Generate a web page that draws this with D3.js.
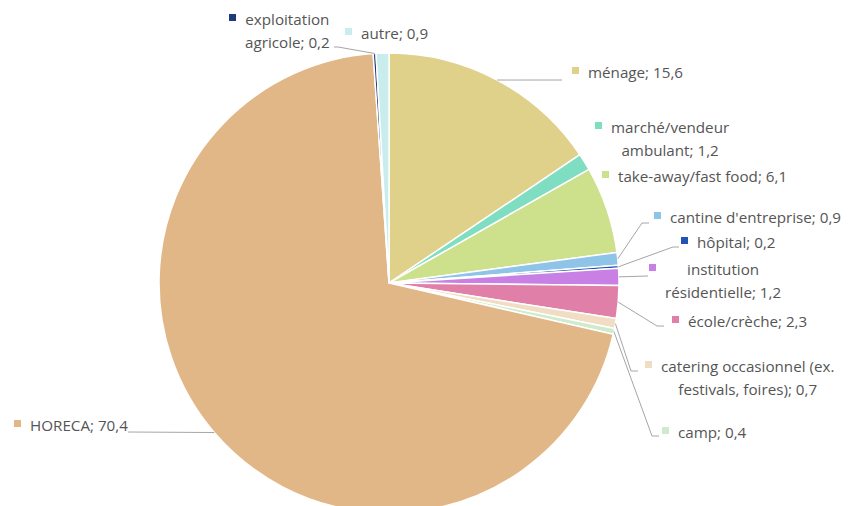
<!DOCTYPE html>
<html><head><meta charset="utf-8">
<script src="https://cdn.jsdelivr.net/npm/d3@7"></script>
<style>
html,body{margin:0;padding:0;background:#fff;}
svg{display:block;}
text{font-family:"Open Sans",Lato,sans-serif;font-size:15.2px;fill:#555555;}
</style></head><body>
<svg id="chart" width="848" height="506"></svg>
<script>
const categories = ["ménage","marché/vendeur ambulant","take-away/fast food","cantine d'entreprise","hôpital","institution résidentielle","école/crèche","catering occasionnel (ex. festivals, foires)","camp","HORECA","exploitation agricole","autre"];
const values = [15.6,1.2,6.1,0.9,0.2,1.2,2.3,0.7,0.4,70.4,0.2,0.9];
const colors = ["#DFD18A","#7FDDC1","#CDE08C","#8FC4E9","#2353B5","#C880E4","#E080A8","#F0DDC4","#CFEBCD","#E2B788","#1E3A78","#C9ECEC"];
const labelLines = [["ménage; 15,6"],["marché/vendeur","ambulant; 1,2"],["take-away/fast food; 6,1"],["cantine d'entreprise; 0,9"],["hôpital; 0,2"],["institution","résidentielle; 1,2"],["école/crèche; 2,3"],["catering occasionnel (ex.","festivals, foires); 0,7"],["camp; 0,4"],["HORECA; 70,4"],["exploitation","agricole; 0,2"],["autre; 0,9"]];
// label layout: left edge of text block, first baseline; leader elbow points
const labelLayout = [
 {x:588,y:78,leader:[[562,80]]},
 {x:611,y:133,leader:null},
 {x:618,y:182,leader:null},
 {x:670,y:223,leader:[[642,223],[649,223]]},
 {x:697,y:248,leader:[[673,247],[679,247]]},
 {x:665,y:275,leader:[[648,276]]},
 {x:688,y:327,leader:[[657,326],[664,326]]},
 {x:661,y:372,leader:[[631,371],[638,371]]},
 {x:678,y:438,leader:[[652,436],[659,436]]},
 {x:30,y:431,leader:[[128,432]]},
 {x:245,y:25,leader:[[338,47],[334,47]]},
 {x:361,y:39,leader:null}
];
const W=848,H=506, cx=389, cy=283, R=230, lineH=23;
const svg=d3.select("#chart");
const data=categories.map((c,i)=>({name:c,value:values[i],color:colors[i],lines:labelLines[i],lay:labelLayout[i]}));
const pie=d3.pie().value(d=>d.value).sort(null);
const arcs=pie(data);
const arc=d3.arc().innerRadius(0).outerRadius(R);
const g=svg.append("g").attr("transform",`translate(${cx},${cy})`);
g.selectAll("path").data(arcs).join("path").attr("d",arc).attr("fill",d=>d.data.color).attr("stroke","#fff").attr("stroke-width",1.5).attr("stroke-linejoin","round");
// leader lines
arcs.forEach(a=>{
  if(!a.data.lay.leader) return;
  const m=(a.startAngle+a.endAngle)/2;
  const p=[cx+R*Math.sin(m), cy-R*Math.cos(m)];
  const pts=[p].concat(a.data.lay.leader);
  svg.append("path").attr("d",d3.line()(pts)).attr("fill","none").attr("stroke","#A6A6A6").attr("stroke-width",1);
});
// labels
arcs.forEach(a=>{
  const L=a.data.lay;
  const grp=svg.append("g");
  const texts=a.data.lines.map((t,i)=>grp.append("text").attr("x",0).attr("y",L.y+i*lineH).text(t));
  const widths=texts.map(t=>t.node().getComputedTextLength());
  const maxW=d3.max(widths);
  texts.forEach((t,i)=>t.attr("x",L.x+(maxW-widths[i])/2));
  grp.append("rect").attr("x",L.x-16).attr("y",L.y-11).attr("width",7).attr("height",7).attr("fill",a.data.color);
});
</script></body></html>
